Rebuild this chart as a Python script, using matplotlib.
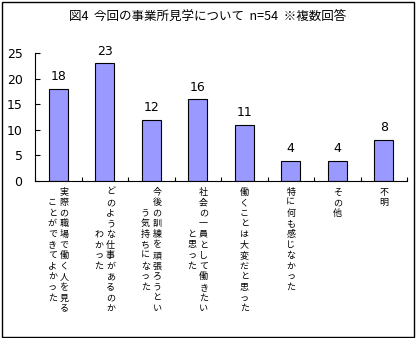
import matplotlib
matplotlib.use("Agg")
import matplotlib.pyplot as plt
from matplotlib.patches import Rectangle
from matplotlib.transforms import blended_transform_factory

plt.rcParams['font.family'] = ['Noto Sans CJK JP', 'DejaVu Sans']

title = "図4  今回の事業所見学について  n=54  ※複数回答"
categories = [
    ["実際の職場で働く人を見る", "ことができてよかった"],
    ["どのような仕事があるのか", "わかった"],
    ["今後の訓練を頑張ろうとい", "う気持ちになった"],
    ["社会の一員として働きたい", "と思った"],
    ["働くことは大変だと思った"],
    ["特に何も感じなかった"],
    ["その他"],
    ["不明"],
]
values = [18, 23, 12, 16, 11, 4, 4, 8]
yticks = [0, 5, 10, 15, 20, 25]

W, H = 416, 338
fig = plt.figure(figsize=(W / 100, H / 100), dpi=100)
ax = fig.add_axes([35 / W, (H - 181) / H, (407 - 35) / W, (181 - 53) / H])

x = list(range(len(values)))
ax.bar(x, values, width=0.41, color='#9999FF', edgecolor='black', linewidth=0.8)
ax.set_xlim(-0.5, len(values) - 0.5)
ax.set_ylim(0, 25)
ax.set_yticks(yticks)
ax.set_yticklabels([str(v) for v in yticks], fontsize=9, family='DejaVu Sans')
ax.tick_params(axis='y', direction='in', length=3.5, width=0.8, pad=9)
ax.set_xticks([i - 0.5 for i in range(len(values) + 1)])
ax.set_xticklabels([])
ax.tick_params(axis='x', direction='in', length=3, width=0.8)
for s in ['top', 'right']:
    ax.spines[s].set_visible(False)
for s in ['left', 'bottom']:
    ax.spines[s].set_linewidth(0.8)

for xi, v in zip(x, values):
    ax.annotate(str(v), (xi, v), xytext=(0, 4), textcoords='offset points',
                ha='center', va='bottom', fontsize=9, family='DejaVu Sans')

# vertical Japanese labels (columns right to left)
tr = blended_transform_factory(ax.transData, fig.transFigure)
pitch = 10.6  # px
top_px = 192
col_dx = 0.125
for xi, cols in zip(x, categories):
    n = len(cols)
    maxlen = max(len(c) for c in cols)
    for ci, col in enumerate(cols):
        dx = ((n - 1) / 2 - ci) * 2 * col_dx if n > 1 else 0
        start = top_px + (maxlen - len(col)) / 2 * pitch
        for k, ch in enumerate(col):
            ypx = start + k * pitch
            ax.text(xi + dx, (H - ypx) / H, ch, transform=tr, ha='center', va='center',
                    fontsize=6.5, clip_on=False)

fig.text(208 / W, (H - 16) / H, title, ha='center', va='center', fontsize=9)

fig.patches.append(Rectangle((1.5 / W, 1.5 / H), (W - 4) / W, (H - 3.5) / H,
                             transform=fig.transFigure, fill=False,
                             edgecolor='black', linewidth=1))

fig.savefig('out.png', dpi=100)
